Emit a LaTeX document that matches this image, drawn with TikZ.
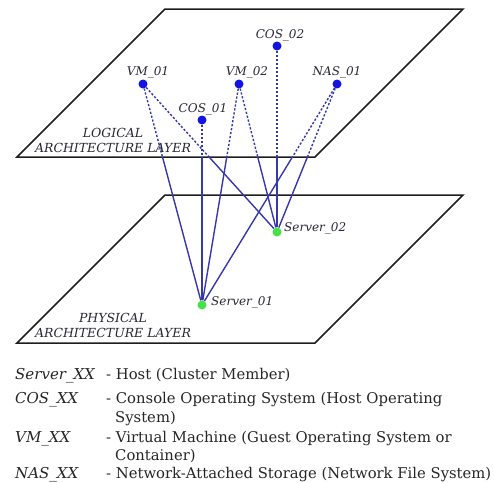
\documentclass[tikz,border=0pt]{standalone}
\usepackage{fontspec}
\setmainfont{DejaVu Serif}
\definecolor{dotblue}{RGB}{20,20,225}
\definecolor{dotgreen}{RGB}{70,225,70}
\definecolor{linkblue}{RGB}{55,55,175}
\definecolor{planegray}{RGB}{30,30,30}
\definecolor{lblgray}{RGB}{40,40,55}
\pgfdeclarelayer{bg}
\pgfsetlayers{bg,main}
\tikzset{
  plane/.style={draw=planegray, line width=1.5pt, line join=miter, fill=white},
  vdot/.style={circle, fill=dotblue, inner sep=0pt, minimum size=9pt},
  sdot/.style={circle, fill=dotgreen, inner sep=0pt, minimum size=9pt},
  lnk/.style={draw=linkblue, line width=1.4pt},
  hid/.style={lnk, dash pattern=on 2.2pt off 1.8pt},
  lbl/.style={font=\fontsize{12}{14}\selectfont\itshape, text=lblgray, inner sep=0pt},
  layerlbl/.style={font=\fontsize{12.5}{15}\selectfont\itshape, text=lblgray, inner sep=0pt, align=center},
  keytxt/.style={font=\fontsize{15}{18}\selectfont\itshape, text=black!85, inner sep=0pt, anchor=base west},
  desctxt/.style={font=\fontsize{14.8}{18}\selectfont, text=black!85, inner sep=0pt, anchor=base west}
}
\begin{document}
\begin{tikzpicture}[x=1pt,y=-1pt]
\useasboundingbox (0,0) rectangle (494,482);

% nodes
\node[vdot] (vm1) at (143,84) {};
\node[vdot] (vm2) at (239,84) {};
\node[vdot] (cos1) at (202,120) {};
\node[vdot] (cos2) at (277,46) {};
\node[vdot] (nas1) at (337,84) {};
\node[sdot] (s1) at (202,305) {};
\node[sdot] (s2) at (277,232) {};

\begin{pgfonlayer}{bg}
  % planes
  \draw[plane] (17,343) -- (165,195) -- (463,195) -- (315,343) -- cycle;
  \draw[plane] (17,157) -- (165,9) -- (463,9) -- (315,157) -- cycle;
  % hidden part (above the logical plane's front edge)
  \begin{scope}
    \clip (0,0) rectangle (494,157);
    \draw[hid] (vm1) -- (s1);
    \draw[hid] (vm1) -- (s2);
    \draw[hid] (cos1) -- (s1);
    \draw[hid] (vm2) -- (s1);
    \draw[hid] (vm2) -- (s2);
    \draw[hid] (cos2) -- (s2);
    \draw[hid] (nas1) -- (s1);
    \draw[hid] (nas1) -- (s2);
  \end{scope}
  \begin{scope}
    \clip (0,157) rectangle (494,482);
    \draw[lnk] (vm1) -- (s1);
    \draw[lnk] (vm1) -- (s2);
    \draw[lnk] (cos1) -- (s1);
    \draw[lnk] (vm2) -- (s1);
    \draw[lnk] (vm2) -- (s2);
    \draw[lnk] (cos2) -- (s2);
    \draw[lnk] (nas1) -- (s1);
    \draw[lnk] (nas1) -- (s2);
  \end{scope}
\end{pgfonlayer}

% node labels
\node[lbl] (vm1l) at (148,72) {VM\_01};
\node[lbl] (vm2l) at (247,72) {VM\_02};
\node[lbl] (nas1l) at (337,72) {NAS\_01};
\node[lbl] (cos2l) at (280,35) {COS\_02};
\node[lbl] (cos1l) at (203,109) {COS\_01};
\node[lbl, anchor=west] (s1l) at (211,302) {Server\_01};
\node[lbl, anchor=west] (s2l) at (284,228) {Server\_02};

% layer labels
\node[layerlbl] (loglbl) at (113,140) {LOGICAL\\ARCHITECTURE LAYER};
\node[layerlbl] (phylbl) at (113,325) {PHYSICAL\\ARCHITECTURE LAYER};

% legend
\node[keytxt] (k1) at (15,379) {Server\_XX};
\node[desctxt] (d1) at (106,379) {- Host (Cluster Member)};
\node[keytxt] (k2) at (15,403) {COS\_XX};
\node[desctxt] (d2) at (106,403) {- Console Operating System (Host Operating};
\node[desctxt] (d2b) at (115,422) {System)};
\node[keytxt] (k3) at (15,442) {VM\_XX};
\node[desctxt] (d3) at (106,442) {- Virtual Machine (Guest Operating System or};
\node[desctxt] (d3b) at (115,460) {Container)};
\node[keytxt] (k4) at (15,478) {NAS\_XX};
\node[desctxt] (d4) at (106,478) {- Network-Attached Storage (Network File System)};
\end{tikzpicture}
\end{document}
